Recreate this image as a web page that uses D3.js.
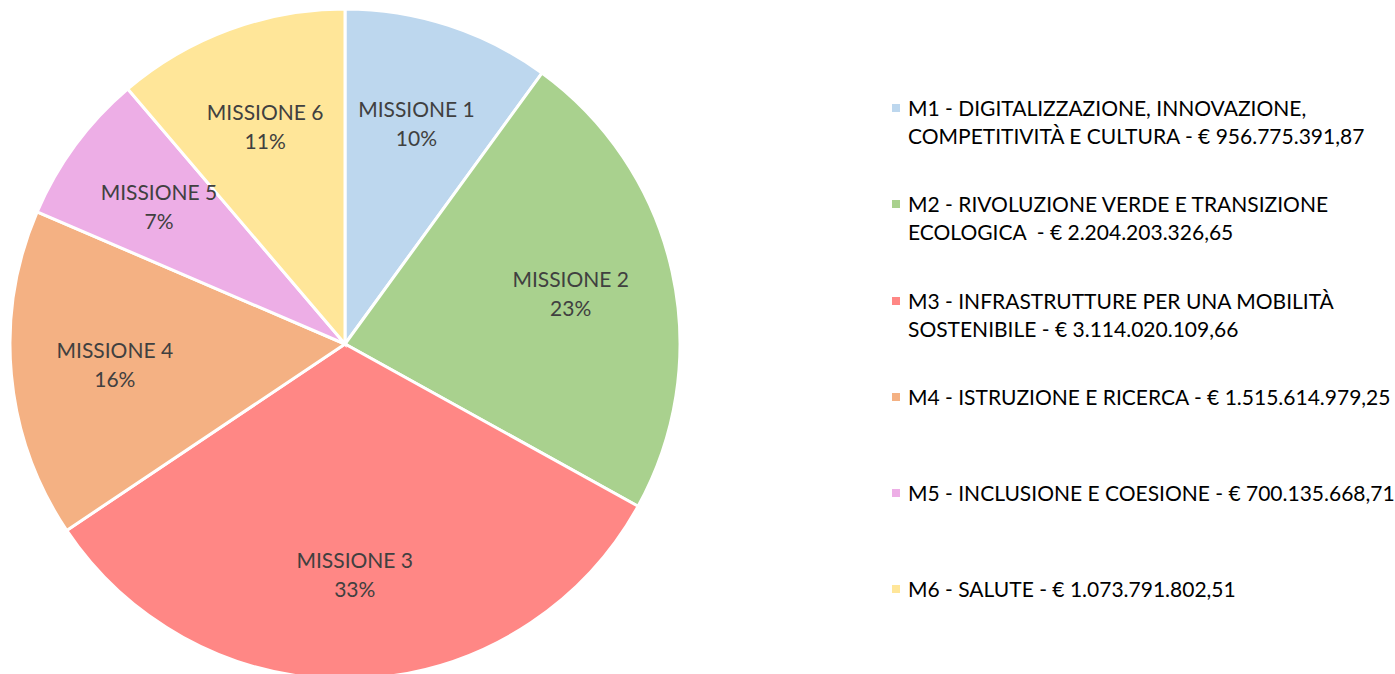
<!DOCTYPE html>
<html lang="it">
<head>
    <meta charset="UTF-8">
    <script src="https://d3js.org/d3.v7.min.js"></script>
    <style>
        body { margin: 0; background: #fff; font-family: Lato, "Open Sans", sans-serif; }
        .slice { stroke: #fff; stroke-width: 3px; }
        .label { font-size: 21px; fill: #404040; }
        .legend text { font-size: 21px; fill: #000; }
    </style>
</head>
<body>
    <div id="chart"></div>

    <script>
        const missioni = ["MISSIONE 1", "MISSIONE 2", "MISSIONE 3", "MISSIONE 4", "MISSIONE 5", "MISSIONE 6"];
        const importi = [956775391.87, 2204203326.65, 3114020109.66, 1515614979.25, 700135668.71, 1073791802.51];
        const colori = ["#BDD7EE", "#A9D18E", "#FF8785", "#F4B183", "#EDAEE6", "#FFE699"];
        const legenda = [
            ["M1 - DIGITALIZZAZIONE, INNOVAZIONE,", "COMPETITIVITÀ E CULTURA - € 956.775.391,87"],
            ["M2 - RIVOLUZIONE VERDE E TRANSIZIONE", "ECOLOGICA  - € 2.204.203.326,65"],
            ["M3 - INFRASTRUTTURE PER UNA MOBILITÀ", "SOSTENIBILE - € 3.114.020.109,66"],
            ["M4 - ISTRUZIONE E RICERCA - € 1.515.614.979,25"],
            ["M5 - INCLUSIONE E COESIONE - € 700.135.668,71"],
            ["M6 - SALUTE - € 1.073.791.802,51"]
        ];

        const width = 1395, height = 674;
        const cx = 345, cy = 344, r = 335;

        const data = missioni.map((m, i) => ({ nome: m, valore: importi[i], colore: colori[i], leg: legenda[i] }));
        const totale = d3.sum(importi);

        const svg = d3.select("#chart").append("svg")
            .attr("width", width)
            .attr("height", height);

        const g = svg.append("g").attr("transform", `translate(${cx},${cy})`);

        const pie = d3.pie().sort(null).value(d => d.valore);
        const arc = d3.arc().innerRadius(0).outerRadius(r);
        const arcLabel = d3.arc().innerRadius(r * 0.69).outerRadius(r * 0.69);

        const archi = pie(data);

        g.selectAll("path")
            .data(archi)
            .enter().append("path")
            .attr("class", "slice")
            .attr("d", arc)
            .attr("fill", d => d.data.colore);

        const fmt = d3.format(".0%");
        const etichette = g.selectAll("text.label")
            .data(archi)
            .enter().append("text")
            .attr("class", "label")
            .attr("text-anchor", "middle")
            .attr("transform", d => `translate(${arcLabel.centroid(d)})`);
        etichette.append("tspan").attr("x", 0).attr("y", -7).text(d => d.data.nome);
        etichette.append("tspan").attr("x", 0).attr("y", 22).text(d => fmt(d.data.valore / totale));

        // legenda a destra
        const legG = svg.append("g").attr("class", "legend").attr("transform", "translate(892,0)");
        const yRiga = [108, 204, 301, 397, 493, 589];
        const voci = legG.selectAll("g")
            .data(data)
            .enter().append("g")
            .attr("transform", (d, i) => `translate(0,${yRiga[i]})`);
        voci.append("rect")
            .attr("x", 0).attr("y", -4)
            .attr("width", 8).attr("height", 8)
            .attr("fill", d => d.colore);
        voci.each(function(d) {
            const t = d3.select(this).append("text");
            d.leg.forEach((riga, j) => {
                t.append("tspan").attr("x", 16).attr("y", 8 + j * 28).attr("xml:space", "preserve").text(riga);
            });
        });
    </script>
</body>
</html>
